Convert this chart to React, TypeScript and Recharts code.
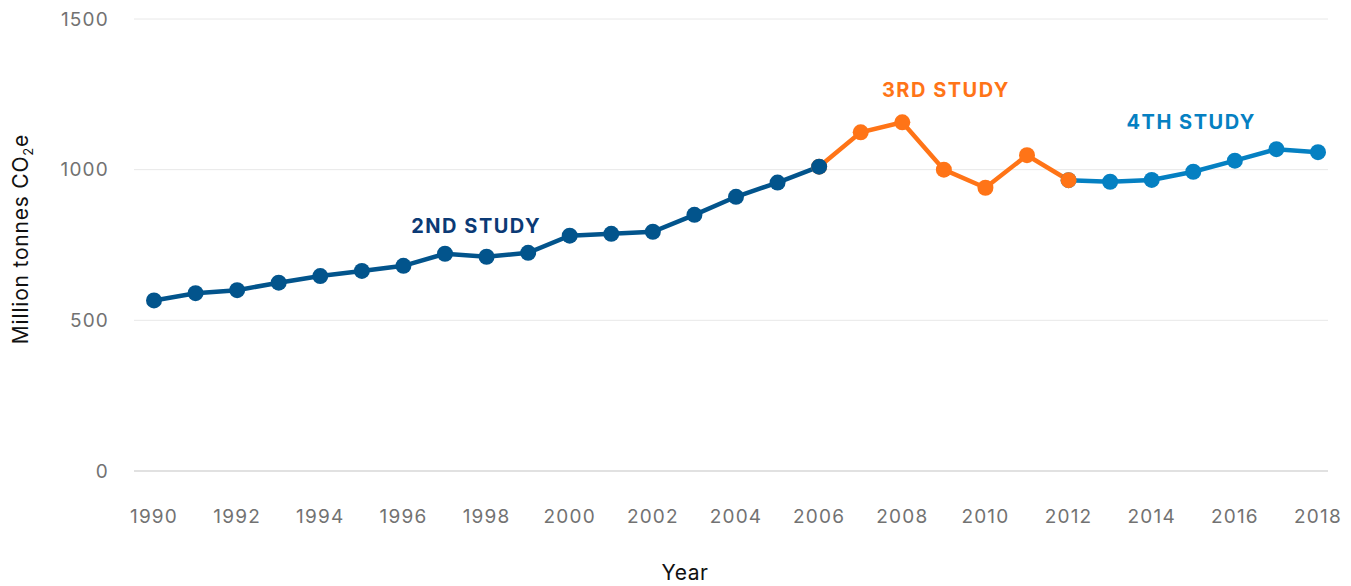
import { LineChart, Line, XAxis, YAxis, CartesianGrid, ReferenceDot } from 'recharts'

const years = [
  1990, 1991, 1992, 1993, 1994, 1995, 1996, 1997, 1998, 1999,
  2000, 2001, 2002, 2003, 2004, 2005, 2006, 2007, 2008, 2009,
  2010, 2011, 2012, 2013, 2014, 2015, 2016, 2017, 2018,
]
const emissions = [
  566, 590, 600, 625, 647, 664, 681, 721, 711, 724,
  781, 787, 794, 850, 910, 957, 1010, 1124, 1157, 1000,
  940, 1048, 965, 960, 966, 993, 1030, 1068, 1058,
]
// study boundaries (inclusive)
const secondEnd = 2006
const thirdEnd = 2012

const xTicks = [1990, 1992, 1994, 1996, 1998, 2000, 2002, 2004, 2006, 2008, 2010, 2012, 2014, 2016, 2018]
const yTicks = [0, 500, 1000, 1500]

const studyLabels = [
  { text: '2ND STUDY', year: 1997.75, value: 815, color: '#0b3a75' },
  { text: '3RD STUDY', year: 2009.05, value: 1265, color: '#ff7417' },
  { text: '4TH STUDY', year: 2014.95, value: 1158, color: '#0580c2' },
]

const COLORS = { second: '#02548c', third: '#ff7417', fourth: '#0580c2' }

const data = years.map((year, i) => ({
  year,
  second: year <= secondEnd ? emissions[i] : null,
  third: year >= secondEnd && year <= thirdEnd ? emissions[i] : null,
  fourth: year >= thirdEnd ? emissions[i] : null,
}))

const FONT = 'Inter, "Noto Sans", sans-serif'
const tickStyle = { fill: '#727272', fontSize: 19, letterSpacing: 1.2 }

export default function App() {
  return (
    <div style={{ position: 'absolute', left: 0, top: 0, background: '#fff' }}>
      <LineChart
        width={1351}
        height={586}
        data={data}
        margin={{ top: 19, right: 23, left: 0, bottom: 0 }}
        style={{ fontFamily: FONT }}
      >
        <CartesianGrid vertical={false} stroke="#e8e8e8" />
        <XAxis
          dataKey="year"
          type="number"
          domain={[1990, 2018]}
          ticks={xTicks}
          interval={0}
          padding={{ left: 20, right: 10 }}
          height={115}
          tickLine={false}
          axisLine={{ stroke: '#cfcfcf' }}
          tick={tickStyle}
          tickMargin={33}
          label={{
            content: () => (
              <text x={685} y={580} textAnchor="middle" fill="#111" fontSize={21} letterSpacing={0.6} fontFamily={FONT}>
                Year
              </text>
            ),
          }}
        />
        <YAxis
          width={134}
          domain={[0, 1500]}
          ticks={yTicks}
          tickLine={false}
          axisLine={false}
          tick={tickStyle}
          tickMargin={19}
          label={{
            content: () => (
              <text
                x={0}
                y={0}
                transform="translate(28,239) rotate(-90)"
                textAnchor="middle"
                fill="#111"
                fontSize={21}
                letterSpacing={0.8}
                fontFamily={FONT}
              >
                Million tonnes CO<tspan dy={5} fontSize={13}>2</tspan>
                <tspan dy={-5}>e</tspan>
              </text>
            ),
          }}
        />
        <Line
          dataKey="fourth"
          stroke={COLORS.fourth}
          strokeWidth={4.5}
          dot={{ r: 8, fill: COLORS.fourth, stroke: 'none' }}
          activeDot={false}
          isAnimationActive={false}
        />
        <Line
          dataKey="third"
          stroke={COLORS.third}
          strokeWidth={4.5}
          dot={{ r: 8, fill: COLORS.third, stroke: 'none' }}
          activeDot={false}
          isAnimationActive={false}
        />
        <Line
          dataKey="second"
          stroke={COLORS.second}
          strokeWidth={4.5}
          dot={{ r: 8, fill: COLORS.second, stroke: 'none' }}
          activeDot={false}
          isAnimationActive={false}
        />
        {studyLabels.map(l => (
          <ReferenceDot
            key={l.text}
            x={l.year}
            y={l.value}
            r={1}
            fill="none"
            stroke="none"
            ifOverflow="visible"
            label={{
              value: l.text,
              position: 'center',
              fill: l.color,
              fontSize: 20,
              fontWeight: 700,
              letterSpacing: 1.5,
              fontFamily: FONT,
            }}
          />
        ))}
      </LineChart>
    </div>
  )
}
